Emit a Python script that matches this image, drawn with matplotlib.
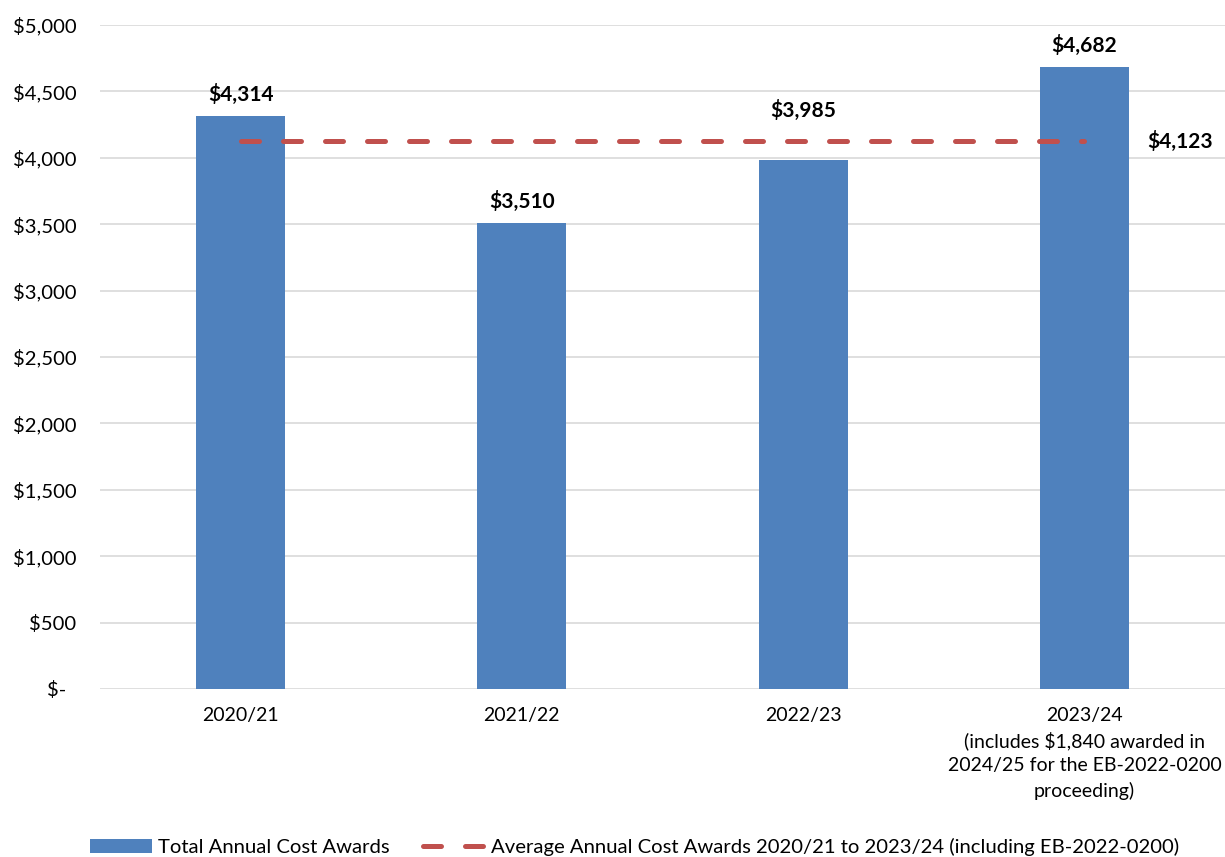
import matplotlib.pyplot as plt
from matplotlib.ticker import FuncFormatter

plt.rcParams['font.family'] = ['Lato', 'DejaVu Sans']

years = ["2020/21", "2021/22", "2022/23",
         "2023/24\n(includes $1,840 awarded in\n2024/25 for the EB-2022-0200\nproceeding)"]
awards = [4314, 3510, 3985, 4682]
average = 4123

bar_color = "#4F81BD"
avg_color = "#C0504D"

fig = plt.figure(figsize=(12.25, 8.57), dpi=100)
ax = fig.add_axes([100 / 1225, 1 - 689 / 857, 1125 / 1225, 664 / 857])

x = list(range(len(years)))
bars = ax.bar(x, awards, width=0.317, color=bar_color, zorder=2,
              label="Total Annual Cost Awards")

avg_line, = ax.plot([x[0], x[-1]], [average, average], color=avg_color, lw=3.6,
                    linestyle=(0, (3.6, 4.8)), dash_capstyle="round", zorder=3,
                    label="Average Annual Cost Awards 2020/21 to 2023/24 (including EB-2022-0200)")

# value labels above the bars; the 2022/23 one sits above the average line
lifts = [8, 8, 28, 8]
for xi, v, lift in zip(x, awards, lifts):
    ax.annotate(f"${v:,}", (xi, v), xytext=(0, lift), textcoords="offset points",
                ha="center", va="bottom", fontsize=15, fontweight="bold")
ax.text(3.34, average, f"${average:,}", ha="center", va="center",
        fontsize=15, fontweight="bold")

ax.set_xlim(-0.5, 3.5)
ax.set_ylim(0, 5000)
ax.set_yticks(range(0, 5001, 500))
ax.yaxis.set_major_formatter(FuncFormatter(lambda v, p: "$-  " if v == 0 else f"${v:,.0f}"))
ax.set_xticks(x)
ax.set_xticklabels(years, fontsize=14, linespacing=1.48)
ax.tick_params(axis="y", labelsize=14.6, length=0, pad=17)
ax.tick_params(axis="x", length=0, pad=13)
ax.grid(axis="y", color="#D9D9D9", lw=1.2, zorder=0)
for s in ax.spines.values():
    s.set_visible(False)

fig.legend(handles=[bars, avg_line], loc="lower center", bbox_to_anchor=(0.518, -0.02),
           ncol=2, frameon=False, fontsize=14.6, handlelength=3.1, columnspacing=1.6,
           handletextpad=0.3)

fig.savefig("out.png", dpi=100)
